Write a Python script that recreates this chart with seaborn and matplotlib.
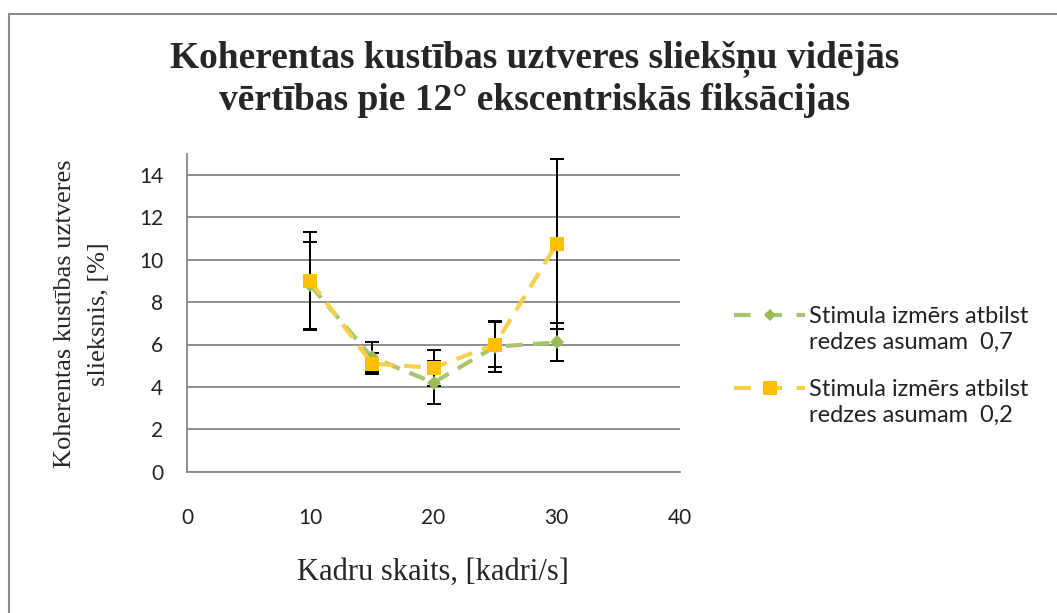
import pandas as pd
import seaborn as sns
import matplotlib.pyplot as plt
from matplotlib.lines import Line2D
from matplotlib.patches import Rectangle
from matplotlib.legend_handler import HandlerLine2D

# Dati (nolasīti no attēla)
kadri = [10, 15, 20, 25, 30]
slieksnis_07 = [8.8, 5.4, 4.2, 5.9, 6.1]
kluda_07 = [2.05, 0.7, 1.0, 1.2, 0.9]
slieksnis_02 = [9.0, 5.1, 4.9, 6.0, 10.75]
kluda_02 = [2.3, 0.5, 0.85, 1.05, 4.0]

lab_07 = "Stimula izmērs atbilst\nredzes asumam  0,7"
lab_02 = "Stimula izmērs atbilst\nredzes asumam  0,2"

df = pd.DataFrame({
    'Kadri': kadri + kadri,
    'Slieksnis': slieksnis_07 + slieksnis_02,
    'Kluda': kluda_07 + kluda_02,
    'Stimuls': [lab_07] * len(kadri) + [lab_02] * len(kadri),
})

krasas = {lab_07: '#9BBB59', lab_02: '#FFC000'}
linijas = {lab_07: '#A9C46E', lab_02: '#F7D04A'}
markeri = {lab_07: 'D', lab_02: 's'}
izmeri = {lab_07: 7, lab_02: 10.5}


# leģendas simbols pret pirmo teksta rindu (kā Excel)
class PirmaRinda(HandlerLine2D):
    def create_artists(self, legend, orig_handle, xdescent, ydescent,
                       width, height, fontsize, trans):
        arts = super().create_artists(legend, orig_handle, xdescent, ydescent,
                                      width, height, fontsize, trans)
        for a in arts:
            a.set_ydata([y + 0.62 * fontsize for y in a.get_ydata()])
        return arts


sns.set_theme(style="white")
plt.rcParams['font.family'] = ['Lato', 'DejaVu Sans']

fig = plt.figure(figsize=(10.57, 6.13), dpi=100)
ax = fig.add_axes([187 / 1057, 1 - 471.7 / 613, 493 / 1057, 318 / 613])

sns.lineplot(
    data=df, x='Kadri', y='Slieksnis', hue='Stimuls', style='Stimuls',
    palette=krasas, markers=markeri,
    dashes={lab_07: (4, 2.5), lab_02: (4, 2.5)},
    linewidth=3, markeredgewidth=0, errorbar=None, legend=False,
    ax=ax, zorder=3,
)

# līnijas nedaudz gaišākas nekā marķieri
for line, lab in zip(ax.lines, [lab_07, lab_02]):
    line.set_color(linijas[lab])
    line.set_markerfacecolor(krasas[lab])
    line.set_markersize(izmeri[lab])

# kļūdu joslas
for lab, sub in df.groupby('Stimuls', sort=False):
    ax.errorbar(sub['Kadri'], sub['Slieksnis'], yerr=sub['Kluda'], fmt='none',
                ecolor='black', elinewidth=1.4, capsize=5, capthick=1.4, zorder=2)

ax.set_xlim(0, 40)
ax.set_ylim(0, 15)
ax.set_xticks(range(0, 41, 10))
ax.set_yticks(range(0, 15, 2))
ax.set_xlabel('')
ax.set_ylabel('')
ax.grid(axis='y', color='#868686', linewidth=1.3)
ax.set_axisbelow(True)

sns.despine(ax=ax)
for s in ['left', 'bottom']:
    ax.spines[s].set_color('#868686')
    ax.spines[s].set_linewidth(1.3)
ax.tick_params(axis='y', colors='#868686', length=5, width=1.3, pad=12, labelsize=15, labelcolor='#222222')
ax.tick_params(axis='x', colors='#868686', length=5, width=1.3, pad=21, labelsize=15, labelcolor='#222222')

# virsraksts un asu nosaukumi
fig.text(535 / 1057, 1 - 79 / 613,
         'Koherentas kustības uztveres sliekšņu vidējās\nvērtības pie 12° ekscentriskās fiksācijas',
         ha='center', va='center', fontsize=27, fontweight='bold',
         family='Liberation Serif', linespacing=1.2)
fig.text(433 / 1057, 1 - 572 / 613, 'Kadru skaits, [kadri/s]',
         ha='center', va='center', fontsize=22, family='Liberation Serif')
fig.text(82 / 1057, 1 - 314 / 613, 'Koherentas kustības uztveres\nslieksnis, [%]',
         ha='center', va='center', rotation=90, fontsize=19,
         family='Liberation Serif', linespacing=1.65)

# leģenda
roktura = [
    Line2D([], [], color=linijas[lab], lw=3, dashes=(4, 3.5),
           marker=markeri[lab], markersize=izmeri[lab] * 0.9,
           markerfacecolor=krasas[lab], markeredgewidth=0)
    for lab in [lab_07, lab_02]
]
leg = fig.legend(roktura, [lab_07, lab_02], loc='center left',
                 bbox_to_anchor=(713 / 1057, 1 - 366 / 613), frameon=False,
                 handlelength=3.0, handletextpad=0.15, labelspacing=1.1,
                 fontsize=17, labelcolor='#222222',
                 handler_map={Line2D: PirmaRinda()})
for t in leg.get_texts():
    t.set_linespacing(1.3)

# diagrammas rāmis
fig.patches.append(Rectangle((9 / 1057, -0.1), 1.2, 1 - 14 / 613 + 0.1,
                             transform=fig.transFigure, fill=False,
                             edgecolor='#8c8c8c', linewidth=1.5))

plt.savefig('out.png', dpi=100)
